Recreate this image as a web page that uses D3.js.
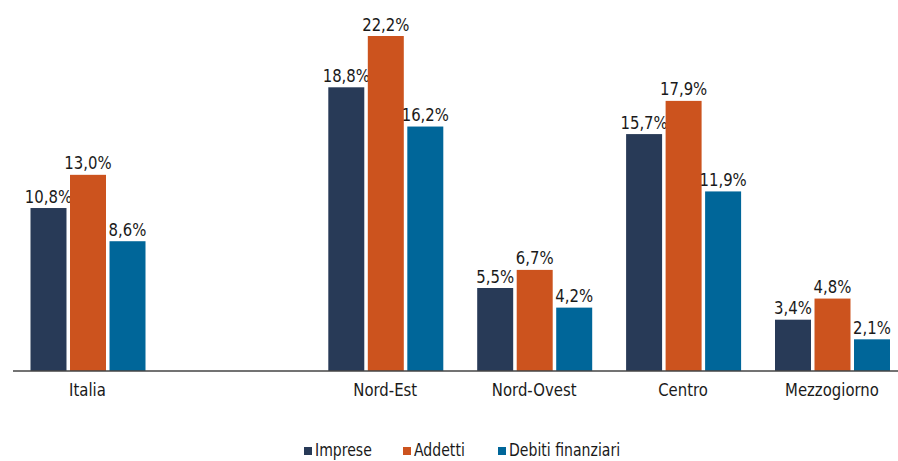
<!DOCTYPE html>
<html>
<head>
<meta charset="utf-8">
<script src="https://cdn.jsdelivr.net/npm/d3@7"></script>
<style>
  html, body { margin: 0; padding: 0; background: #fff; }
  svg { display: block; font-family: "DejaVu Sans Condensed", "DejaVu Sans", sans-serif; }
</style>
</head>
<body>
<svg id="chart" width="898" height="461"></svg>
<script>
// Regions (an empty slot separates the national total from the areas)
const categories = ["Italia", "", "Nord-Est", "Nord-Ovest", "Centro", "Mezzogiorno"];
const seriesNames = ["Imprese", "Addetti", "Debiti finanziari"];
const imprese = [10.8, null, 18.8, 5.5, 15.7, 3.4];
const addetti = [13.0, null, 22.2, 6.7, 17.9, 4.8];
const debiti  = [8.6, null, 16.2, 4.2, 11.9, 2.1];
const colors = ["#283a57", "#cc531e", "#006699"];

const seriesValues = [imprese, addetti, debiti];
const slotKeys = categories.map((c, i) => c || "slot" + i);

const svg = d3.select("#chart");
const W = 898;
const baseY = 371;
const textColor = "#1a1a1a";
const squeeze = 0.92; // narrow the glyphs a little

const x0 = d3.scaleBand().domain(slotKeys).range([13, 906.4]).padding(0);
const x1 = d3.scaleBand().domain(seriesNames).range([17.5, 132.5]).paddingInner(0.089);
const y = d3.scaleLinear().domain([0, 22.2]).range([baseY, 36]);

const fmt = v => d3.format(".1f")(v).replace(".", ",") + "%";

// Draws a horizontally condensed text label anchored at (x, y)
function label(parent, x, yPos, str, size, anchor) {
  return parent.append("text")
    .attr("transform", `translate(${x},${yPos}) scale(${squeeze},1)`)
    .attr("text-anchor", anchor)
    .attr("font-size", size)
    .attr("fill", textColor)
    .text(str);
}

const groups = svg.append("g").selectAll("g")
  .data(slotKeys.map((k, i) => ({ key: k, i })))
  .join("g")
  .attr("transform", d => `translate(${x0(d.key)},0)`);

seriesNames.forEach((name, s) => {
  groups.filter(d => seriesValues[s][d.i] != null).each(function (d) {
    const v = seriesValues[s][d.i];
    const g = d3.select(this);
    g.append("rect")
      .attr("x", x1(name))
      .attr("width", x1.bandwidth())
      .attr("y", y(v))
      .attr("height", baseY - y(v))
      .attr("fill", colors[s]);
    label(g, x1(name) + x1.bandwidth() / 2, y(v) - 5.5, fmt(v), 18, "middle");
  });
});

// Category axis
svg.append("line")
  .attr("x1", 13).attr("x2", W)
  .attr("y1", baseY).attr("y2", baseY)
  .attr("stroke", "#444").attr("stroke-width", 1.5);
const axisG = svg.append("g");
slotKeys.forEach((k, i) => {
  if (!categories[i]) return;
  label(axisG, x0(k) + x0.bandwidth() / 2, 396, categories[i], 18, "middle");
});

// Legend
const legendX = [304, 403, 498];
const legend = svg.append("g");
seriesNames.forEach((name, s) => {
  legend.append("rect")
    .attr("x", legendX[s]).attr("y", 447)
    .attr("width", 8).attr("height", 8)
    .attr("fill", colors[s]);
  label(legend, legendX[s] + 11, 456, name, 17, "start");
});
</script>
</body>
</html>
